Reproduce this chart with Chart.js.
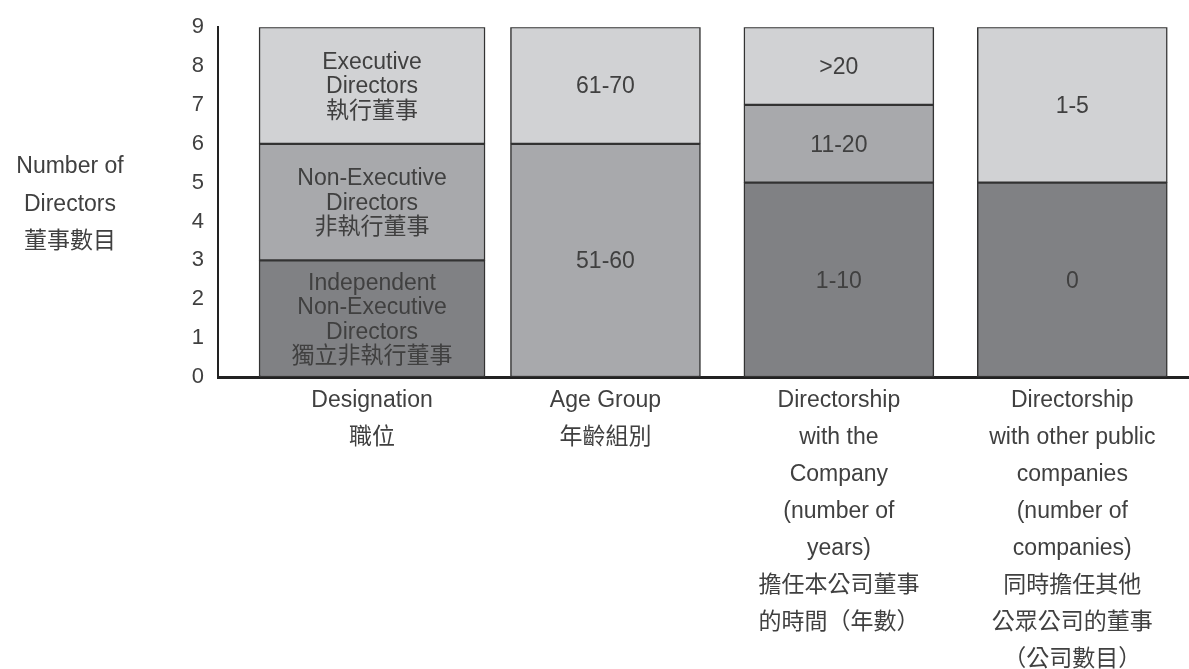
<!DOCTYPE html>
<html>
<head>
<meta charset="utf-8">
<script src="https://cdn.jsdelivr.net/npm/chart.js@4.4.1/dist/chart.umd.min.js"></script>
<style>
    html, body { margin: 0; padding: 0; background: #ffffff; }
    #wrap { width: 1189px; height: 669px; }
</style>
</head>
<body>
<div id="wrap"><canvas id="chart" width="1189" height="669"></canvas></div>
<script>
// DATA ---------------------------------------------
const categoryLabels = [
    ["Designation", "職位"],
    ["Age Group", "年齡組別"],
    ["Directorship", "with the", "Company", "(number of", "years)", "擔任本公司董事", "的時間（年數）"],
    ["Directorship", "with other public", "companies", "(number of", "companies)", "同時擔任其他", "公眾公司的董事", "（公司數目）"]
];
const yTicks = [0, 1, 2, 3, 4, 5, 6, 7, 8, 9];
const yTitle = ["Number of", "Directors", "董事數目"];

// segments of each bar, bottom to top
const designationValues = [3, 3, 3];
const designationNames = [
    ["Independent", "Non-Executive", "Directors", "獨立非執行董事"],
    ["Non-Executive", "Directors", "非執行董事"],
    ["Executive", "Directors", "執行董事"]
];
const ageValues = [6, 3];
const ageNames = ["51-60", "61-70"];
const tenureValues = [5, 2, 2];
const tenureNames = ["1-10", "11-20", ">20"];
const otherCompanyValues = [5, 4];
const otherCompanyNames = ["0", "1-5"];

// STYLE --------------------------------------------
const shades = {dark: "#808184", mid: "#a8a9ac", light: "#d1d2d4"};
const barShades = [["dark", "mid", "light"], ["mid", "light"], ["dark", "mid", "light"], ["dark", "light"]];
const barWidths = [226, 190, 190, 190];
const latin = '"Liberation Sans", "Noto Sans CJK TC", sans-serif';
const textColor = "#404040";

let allValues = [designationValues, ageValues, tenureValues, otherCompanyValues];
let allNames = [designationNames, ageNames, tenureNames, otherCompanyNames];

function buildDatasets() {
    let datasets = [];
    for (let i = 0; i < allValues.length; i++) {
        for (let j = 0; j < allValues[i].length; j++) {
            datasets.push({
                label: "bar" + i + "-" + j,
                data: [{x: i, y: allValues[i][j]}],
                segmentName: allNames[i][j],
                backgroundColor: shades[barShades[i][j]],
                borderColor: "#333333",
                borderWidth: 1.5,
                borderSkipped: false,
                barThickness: barWidths[i],
                stack: "all"
            });
        }
    }
    return datasets;
}

// draws the text inside every stacked segment
const segmentLabels = {
    id: "segmentLabels",
    afterDatasetsDraw(chart) {
        let ctx = chart.ctx;
        ctx.save();
        ctx.font = "23px " + latin;
        ctx.fillStyle = textColor;
        ctx.textAlign = "center";
        ctx.textBaseline = "middle";
        chart.data.datasets.forEach((ds, k) => {
            let bar = chart.getDatasetMeta(k).data[0];
            if (!bar) return;
            let lines = Array.isArray(ds.segmentName) ? ds.segmentName : [ds.segmentName];
            let mid = (bar.y + bar.base) / 2;
            let lh = 24.5;
            let start = mid - (lines.length - 1) * lh / 2 + 1.5;
            lines.forEach((t, n) => ctx.fillText(t, bar.x, start + n * lh));
        });
        ctx.restore();
    }
};

// horizontal y axis title on the left
const sideTitle = {
    id: "sideTitle",
    afterDraw(chart) {
        let ctx = chart.ctx;
        ctx.save();
        ctx.font = "23px " + latin;
        ctx.fillStyle = textColor;
        ctx.textAlign = "center";
        ctx.textBaseline = "middle";
        let mid = (chart.chartArea.top + chart.chartArea.bottom) / 2;
        yTitle.forEach((t, n) => ctx.fillText(t, 70, mid - 35 + n * 37.5));
        ctx.restore();
    }
};

let ctx = document.getElementById("chart").getContext("2d");
let chart = new Chart(ctx, {
    type: "bar",
    data: {datasets: buildDatasets()},
    plugins: [segmentLabels, sideTitle],
    options: {
        responsive: false,
        animation: false,
        layout: {padding: {top: 25, right: 0, bottom: 0, left: 0}},
        plugins: {legend: {display: false}, tooltip: {enabled: false}},
        scales: {
            x: {
                type: "linear",
                offset: false,
                stacked: true,
                min: -0.66,
                max: 3.5,
                grid: {display: false, drawTicks: false},
                border: {display: true, color: "#222222", width: 3},
                afterBuildTicks: function (axis) {
                    axis.ticks = categoryLabels.map((c, i) => ({value: i}));
                },
                afterFit: function (scale) {
                    scale.height = 292;
                },
                ticks: {
                    autoSkip: false,
                    maxRotation: 0,
                    padding: 5,
                    color: textColor,
                    font: {family: latin, size: 23, lineHeight: 1.61},
                    callback: function (value) {
                        return categoryLabels[value] || "";
                    }
                }
            },
            y: {
                stacked: true,
                min: 0,
                max: 9,
                grid: {display: false, drawTicks: false},
                border: {display: true, color: "#222222", width: 2},
                afterBuildTicks: function (axis) {
                    axis.ticks = yTicks.map(v => ({value: v}));
                },
                afterFit: function (scale) {
                    scale.width = 218;
                },
                ticks: {
                    padding: 14,
                    color: textColor,
                    font: {family: latin, size: 22}
                }
            }
        }
    }
});
</script>
</body>
</html>
